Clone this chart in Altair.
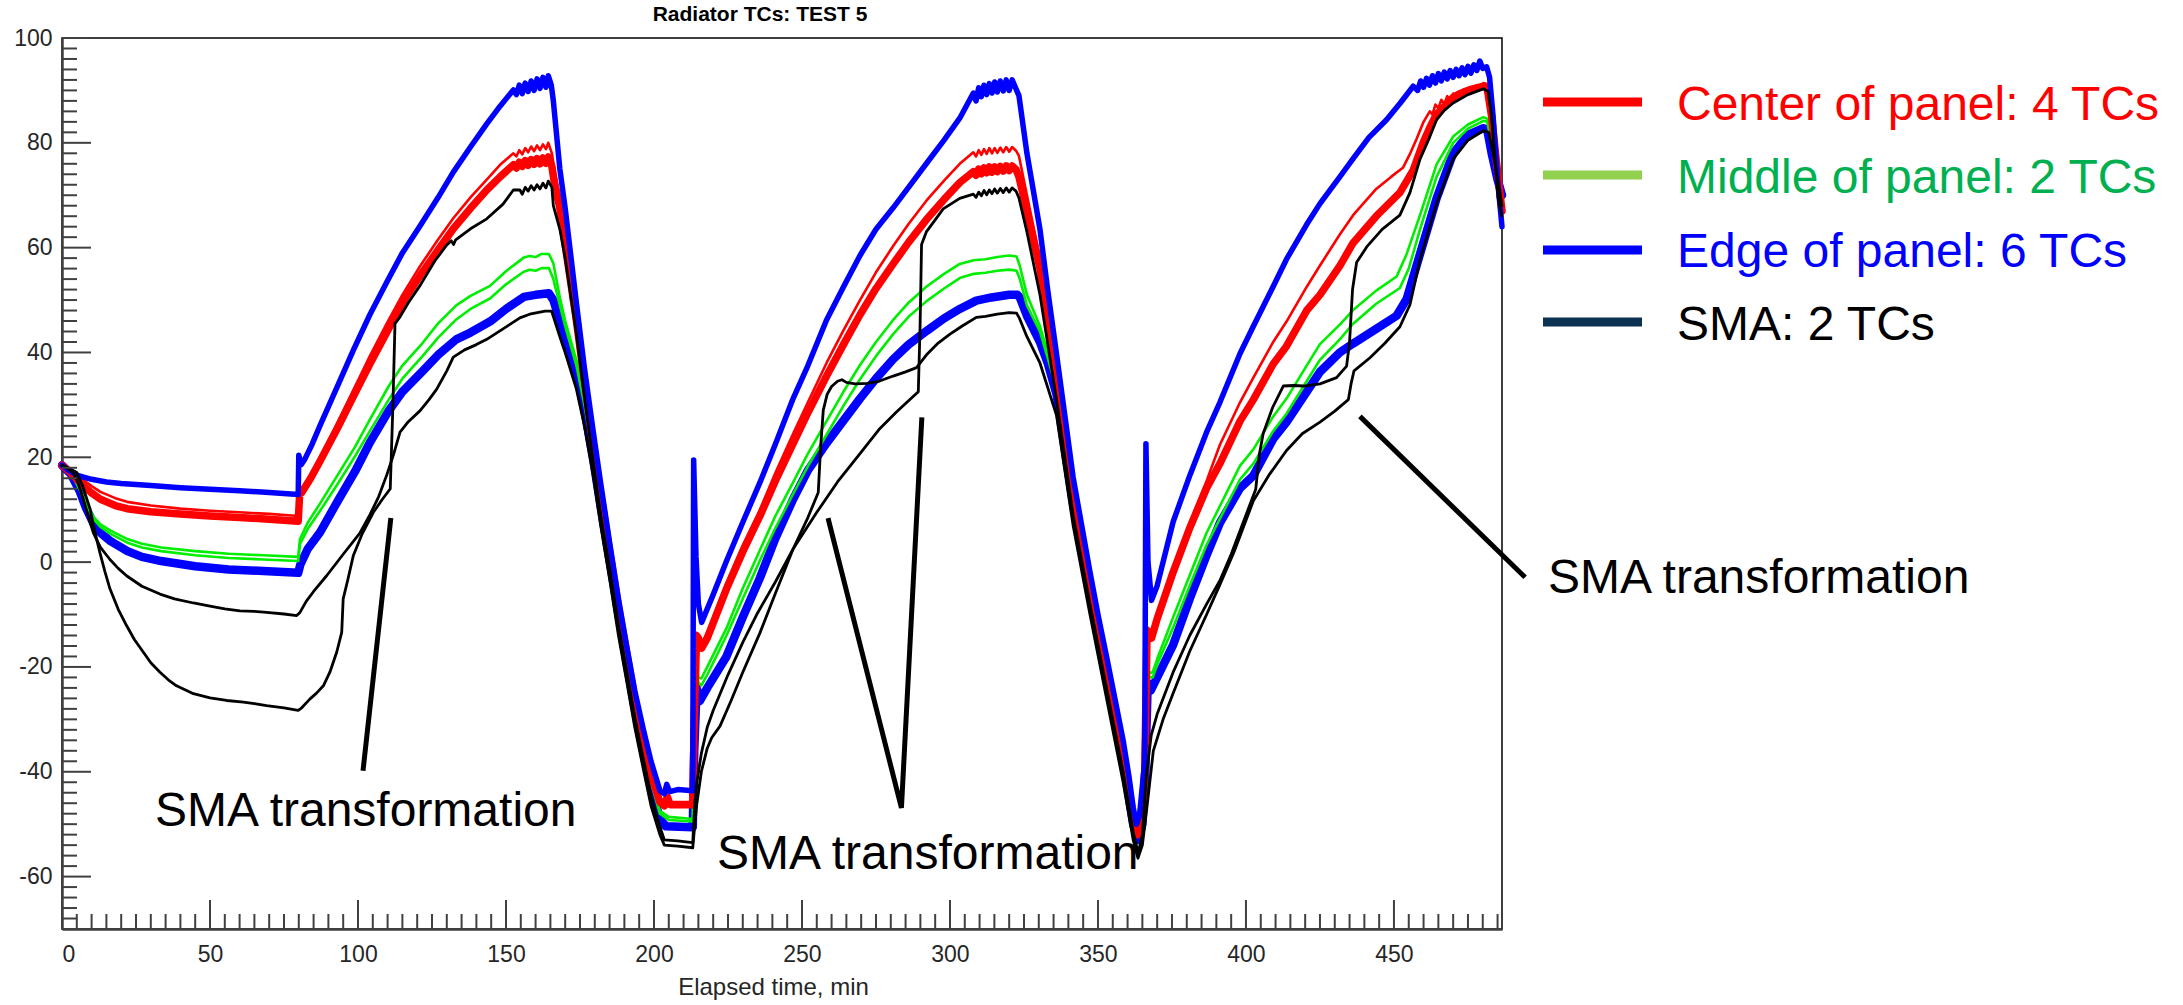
import altair as alt
import pandas as pd

FONT = "Liberation Sans"
TITLE = "Radiator TCs: TEST 5"
X_TITLE = "Elapsed time, min"
X_LABELS = [0, 50, 100, 150, 200, 250, 300, 350, 400, 450]
Y_LABELS = [-60, -40, -20, 0, 20, 40, 60, 80, 100]
X_MINOR = list(range(0, 490, 5))
Y_MINOR = list(range(-70, 101, 2))
X_DOMAIN = [0, 486.5]
Y_DOMAIN = [-70, 100]

LEGEND_LABELS = ["Center of panel: 4 TCs", "Middle of panel: 2 TCs",
                 "Edge of panel: 6 TCs", "SMA: 2 TCs"]
ANNOT_LABEL = "SMA transformation"

# ---- series: (elapsed minutes, temperature) ----
EDGE_HIGH = [(0,18.5),(2,17.6),(5,16.6),(10,15.8),(15,15.3),(20,15.0),(30,14.6),(40,14.2),(50,13.9),(60,13.6),(70,13.3),(79.8,12.9),(80.0,20.4),(80.8,18.6),(82,19.6),(84.5,22.5),(87.2,26.1),(93,33.5),(98.4,40.4),(104,47.2),(109.7,53.4),(115,59),(121,64.2),(127,69.5),(132.2,74.4),(138,79.2),(143.5,83.6),(148,87),(152.5,90.1),(153.5,89.2),(154.5,91),(155.5,89.4),(156.5,91.4),(157.5,89.8),(158.5,91.8),(159.5,90),(160.5,92.2),(161.5,90.4),(162.5,92.5),(163.5,90.6),(164.3,92.8),(165.3,91),(166,88),(168.2,75),(170,67.5),(173.8,49.4),(176.5,37),(179.5,24.8),(182,15),(185.1,3.4),(188,-7),(190.7,-15.8),(193.5,-24.5),(196.4,-31.9),(199,-38),(202,-43.6),(203.5,-44.2),(204.3,-42.4),(205.3,-43.8),(208,-43.4),(213.1,-43.6),(213.4,19.5),(214.2,1),(215,-8),(216.1,-11.5),(220,-6.2),(224.5,0.2),(230,7.6),(235.8,15.2),(241,22.5),(247,31.2),(252,37.5),(258.3,46.2),(264,52.5),(269.6,58.5),(275,63.5),(280.8,67.6),(286,71.5),(292.1,76.1),(298,80.5),(303.3,84.7),(307.9,89.5),(308.8,88),(309.7,90.5),(310.6,88.8),(311.5,91),(312.4,89.2),(313.3,91.3),(314.2,89.5),(315.1,91.6),(316,89.7),(317,91.8),(318,89.9),(319,92),(320,90),(321,92),(322.3,90.3),(323.3,89),(326,78),(330.4,63.5),(333,52),(336,39.7),(338.8,28),(341.6,16.2),(344.5,7),(347.3,-1.9),(350,-10),(352.9,-18),(355.7,-26),(358.5,-34),(360.5,-41),(361.9,-46.8),(363,-50),(364,-48.5),(365.8,-38),(366.2,22.6),(366.9,0),(368.1,-7.3),(370,-4.5),(375.4,7.7),(381,16.5),(386.7,24.8),(391.2,30.5),(398,39.8),(402.5,45),(409.2,52.6),(413.7,57.8),(420.5,64.4),(425,68.4),(431.7,73.5),(436.2,77),(441.5,81),(447.5,84.4),(452,87.5),(456.5,90.8),(458,90),(459,91.8),(460,90.6),(461,92.3),(462,91),(463,92.8),(464,91.4),(465,93.2),(466,91.8),(467,93.5),(468,92.2),(469,93.8),(470,92.5),(471,94),(472,92.8),(473,94.3),(474,93),(475,94.6),(476,93.3),(477,94.9),(478,93.8),(479,95.6),(480,94.2),(481.3,94.5),(482.3,92.5),(483.5,85),(485,73),(486.5,64)]

CENTER_UPPER = [(0,18.5),(3,17.5),(6,16.2),(10,14.5),(13,13.4),(18,12.2),(22,11.5),(30,10.8),(40,10.2),(50,9.8),(60,9.5),(70,9.2),(79.8,8.8),(80.3,13.6),(81,14),(84,16.5),(87.2,20),(93,26.5),(98.4,32.8),(104,39.3),(109.7,45.5),(115,51),(121,56.5),(127,61.5),(132.2,65.6),(138,69.6),(143.5,73),(148,75.8),(152.5,78),(153.5,77.4),(154.5,78.6),(155.5,77.8),(156.5,79),(157.5,78.2),(158.5,79.3),(159.5,78.4),(160.5,79.5),(161.5,78.6),(162.5,79.7),(163.5,78.8),(164.3,80),(165.5,78),(166.3,75),(168.2,69.5),(170,62),(173.8,47),(176.5,35),(179.5,23),(182,13.5),(185.1,2.2),(188,-8),(190.7,-16.5),(193.5,-25.5),(196.4,-33),(199,-39.5),(202,-45),(203.5,-45.8),(204.5,-44.3),(205.5,-45.8),(213.1,-45.8),(213.6,-30),(214.4,-13.5),(215,-14),(216.1,-15.5),(218,-13.5),(224.5,-4),(230,3.2),(235.8,10),(241,17),(247,24.5),(252,30.5),(258.3,38),(264,44.2),(269.6,50),(275,55.3),(280.8,60.3),(286,64.5),(292.1,69),(298,72.8),(303.3,76),(307.9,78.2),(308.8,77.4),(309.7,78.6),(310.6,77.7),(311.5,78.8),(312.4,77.9),(313.3,79),(314.2,78),(315.1,79),(316,78.1),(317,79.1),(318,78.2),(319,79.2),(320,78.3),(321,79.2),(322.3,78.5),(323.3,77.5),(326,70),(330.4,58),(333,48),(336,36.5),(341.6,14.5),(347.3,-3),(352.9,-19),(358.5,-35),(361.9,-47.5),(363.5,-51.5),(364.8,-48.5),(365.8,-40),(366.6,-12.5),(367.3,-13),(368.1,-14),(370,-10),(375.4,-1),(381,7.5),(386.7,15.5),(391.2,22.4),(398,30.5),(402.5,35.2),(409.2,42),(413.7,45.9),(420.5,52.5),(425,56.6),(431.7,62.5),(436.2,66.2),(444,71.2),(449,73.5),(453.1,75.3),(455.5,78),(457.6,80.7),(460,84),(462.1,86),(463,85.4),(464,87.3),(465,86.6),(466,88.2),(467,87.4),(468,88.9),(469,88.1),(470,89.4),(471,88.6),(472,89.8),(473,89),(474,90.2),(475,89.5),(476,90.6),(477,89.9),(478,91),(479,90.3),(480.2,91.4),(481.5,91.2),(483,86),(484.5,78),(486.5,69)]

CENTER_BAND = [(0,18.5),(3,17),(6,15.2),(10,13.2),(13,12),(18,10.8),(22,10.2),(30,9.6),(40,9.2),(50,8.8),(60,8.5),(70,8.2),(79.8,7.8),(80.3,13),(81,13.3),(84,16),(87.2,19.3),(93,25.5),(98.4,31.6),(104,37.8),(109.7,43.8),(115,49.5),(121,54.7),(127,59.5),(132.2,63.6),(138,67.5),(143.5,71),(148,73.5),(152.5,75.8),(153.5,75.2),(154.5,76.3),(155.5,75.5),(156.5,76.6),(157.5,75.7),(158.5,76.8),(159.5,75.9),(160.5,77),(161.5,76),(162.5,77.1),(163.5,76.1),(164.3,77.3),(165.5,75.5),(166.3,72.5),(168.2,67.5),(170,60.5),(173.8,46),(176.5,34.5),(179.5,22.3),(182,13),(185.1,1.8),(188,-8.5),(190.7,-17),(193.5,-26),(196.4,-33.5),(199,-40.5),(202,-45.8),(203.5,-46.5),(204.5,-44.8),(205.5,-46.3),(213.1,-46.3),(213.6,-30),(214.4,-14),(215,-14.5),(216.1,-16.4),(218,-14.5),(224.5,-5.1),(230,2),(235.8,8.8),(241,15.5),(247,22.6),(252,28.5),(258.3,35.5),(264,41.5),(269.6,47.2),(275,52.2),(280.8,56.9),(286,61),(292.1,65.4),(298,69.2),(303.3,72.4),(307.9,74.5),(308.8,73.8),(309.7,75),(310.6,74.1),(311.5,75.2),(312.4,74.3),(313.3,75.4),(314.2,74.4),(315.1,75.4),(316,74.5),(317,75.5),(318,74.6),(319,75.6),(320,74.7),(321,75.6),(322.3,74.9),(323.3,73.5),(326,67),(330.4,56),(333,46),(336,35.5),(341.6,13.5),(347.3,-4),(352.9,-20),(358.5,-36),(361.9,-48.5),(363.5,-52),(364.8,-49),(365.8,-40),(366.6,-13),(367.3,-13.5),(368.1,-14.5),(370,-10.8),(375.4,-1.9),(381,6.5),(386.7,14.1),(391.2,18.8),(398,26.9),(402.5,31),(409.2,37.8),(413.7,41.2),(420.5,48),(425,51),(431.7,56.5),(436.2,60.9),(444,66),(452,70.5),(456.5,74.8),(459.9,80.1),(462,82.8),(464.4,85.5),(466,86.3),(468,87.5),(470,88.7),(472,89.3),(474,89.8),(476,90.2),(478,90.5),(480.2,90.8),(481.5,90.4),(483,85),(484.5,77),(486.5,67)]

MIDDLE_A = [(0,18.5),(3,17),(6,14),(8,11.5),(10.7,8.6),(13,7.2),(16.4,6),(22.1,4.4),(27,3.5),(33.5,2.8),(45,2.1),(56.3,1.6),(68,1.3),(79.8,1.0),(80.4,4.4),(83,7.5),(87.2,11.2),(93,16.5),(99,22),(104,27.2),(110.4,33.6),(115,37.5),(121.8,41.8),(127,45.5),(133.2,49),(138,50.8),(144.6,52.7),(150,55.5),(156,58.1),(158,58.4),(160,58.2),(162,58.8),(164.5,58.8),(166,57),(168.2,50.5),(170,46),(173.8,38.5),(176.5,31),(179.5,21),(182,12),(185.1,1.5),(188,-8.5),(190.7,-17.5),(193.5,-26.5),(196.4,-34.5),(199,-41.5),(202,-47.5),(205,-48.6),(213.1,-49),(213.6,-35),(214.3,-20.5),(215,-22),(216,-22.2),(218,-20),(224.5,-12.6),(230,-5),(235.8,2.3),(241,8.8),(247,15.2),(252,20.7),(258.3,26.9),(264,32.5),(269.6,37.6),(275,42),(280.8,46.2),(286,49.5),(292.1,52.6),(298,55),(303.3,56.9),(308,57.6),(312,57.8),(316,58.2),(320,58.5),(322.5,58.3),(323.6,56.5),(326,51),(330.4,45),(333,40),(336,33.5),(341.6,12.5),(347.3,-5),(352.9,-21),(358.5,-37),(361.9,-48.5),(363.8,-52),(365,-48),(366,-38),(366.8,-20),(367.5,-21.2),(368.5,-21),(370,-18.5),(375.4,-10.5),(381,-2.5),(386.7,5.6),(391.2,10.7),(398,18.4),(402.5,21.5),(409.2,27.8),(413.7,31.2),(420.5,37.5),(425,41.6),(431.7,45.3),(436.2,48.1),(444,51.8),(450.9,54.5),(454.3,58.8),(458.8,66.2),(464.4,75.9),(470,81.2),(475,83.5),(480.2,84.9),(481.5,84.6),(483,80),(484.8,74),(486.5,68)]

MIDDLE_B = [(0,18.5),(3,17),(6,13.8),(8,11.2),(10.7,8.2),(13,6.7),(16.4,5.4),(22.1,3.7),(27,2.8),(33.5,2.1),(45,1.3),(56.3,0.8),(68,0.5),(79.8,0.2),(80.4,3.5),(83,6.3),(87.2,9.8),(93,14.8),(99,20.2),(104,25),(110.4,31),(115,35),(121.8,39.3),(127,42.8),(133.2,46.3),(138,48.3),(144.6,50.3),(150,53),(156,55.4),(158,55.8),(160,55.6),(162,56.1),(164.5,56.1),(166,54),(168.2,49),(170,45),(173.8,37.5),(176.5,30),(179.5,20.5),(182,11.5),(185.1,1),(188,-9),(190.7,-18),(193.5,-27),(196.4,-35),(199,-42),(202,-48),(205,-49.2),(213.1,-49.5),(213.6,-36),(214.3,-21.5),(215,-23),(216,-23.5),(218,-21.5),(224.5,-14),(230,-7),(235.8,0.3),(241,6.5),(247,13),(252,18.3),(258.3,24.3),(264,29.8),(269.6,34.9),(275,39.3),(280.8,43.5),(286,46.8),(292.1,49.8),(298,52.2),(303.3,54.2),(308,55),(312,55.2),(316,55.6),(320,55.8),(322.5,55.6),(323.6,54),(326,49),(330.4,44),(333,39),(336,33),(341.6,12),(347.3,-5.5),(352.9,-21.5),(358.5,-37.5),(361.9,-49),(363.8,-52.3),(365,-48.5),(366,-39),(366.8,-21),(367.5,-22),(368.5,-22),(370,-19.5),(375.4,-12.5),(381,-4.5),(386.7,3.3),(391.2,8.3),(398,15.8),(402.5,18.8),(409.2,25),(413.7,28.3),(420.5,34.5),(425,38.6),(431.7,42.5),(436.2,45.5),(444,49.3),(452,52.3),(455,56),(458.8,63.5),(464.4,73.5),(470,80),(475,82.7),(480.2,84.2),(481.5,84),(483,80),(484.8,73.5),(486.5,67.5)]

EDGE_BAND = [(0,18.5),(3,16.8),(6,13.5),(8,10.5),(10.7,7.3),(13,5.6),(16.4,4),(22.1,2.1),(27,1),(33.5,0.2),(45,-0.8),(56.3,-1.4),(68,-1.7),(79.8,-2.05),(80.5,-0.5),(83,2.5),(87.2,5.7),(93,11.5),(99,17.3),(104,22.8),(110.4,28.9),(115,32.5),(121.8,36.4),(127,39.5),(133.2,42.5),(138,43.8),(144.6,45.9),(150,48.3),(156,50.6),(160,51),(164.5,51.3),(166,50),(168.2,46),(170,43),(173.8,36),(176.5,29),(179.5,19.5),(182,10.5),(185.1,0),(188,-10),(190.7,-19),(193.5,-28),(196.4,-36),(199,-43),(202,-49),(204,-50.4),(213.1,-50.6),(213.6,-36),(214.4,-24),(215.5,-26.5),(218,-24),(224.5,-18),(230,-10.5),(235.8,-3),(241,4.5),(247,12),(252,17.5),(258.3,22.7),(264,27),(269.6,31.2),(275,35),(280.8,38.7),(286,41.5),(292.1,44.1),(298,46.5),(303.3,48.3),(308.9,49.9),(314,50.5),(320,51),(322.8,51),(323.6,50.5),(326,47),(330.4,42),(333,38),(336,32),(341.6,11),(347.3,-6),(352.9,-22),(358.5,-38),(361.9,-50),(363.6,-53),(365,-50),(366,-40),(366.8,-23),(367.8,-24.5),(370,-22),(375.4,-15.8),(381,-7),(386.7,1.3),(391.2,7.5),(398,14.1),(402.5,16.5),(409.2,23.5),(413.7,26.7),(420.5,32.5),(425,36.3),(431.7,40),(436.2,41.7),(444,44.5),(450.9,47),(454.3,50.2),(458.8,58.8),(464.4,69.4),(470,78),(475,81.5),(480.2,82.8),(481.5,82.5),(483,78),(485,73),(486.5,70)]

SMA_A = [(0,18.5),(2,18),(5,17.1),(7,14.5),(9.5,10.1),(11,6),(12.8,1.8),(14.5,-1.8),(16.2,-5.1),(19,-9),(21.8,-12.1),(24.5,-14.8),(27.5,-17.2),(30,-19.2),(33.1,-21),(36,-22.5),(38.7,-23.6),(44.4,-25.1),(50,-25.9),(55.6,-26.4),(61.3,-26.7),(65,-27),(69.1,-27.4),(75,-27.8),(79.8,-28.3),(81,-27.8),(83.8,-26.1),(86,-25),(88.3,-23.6),(90.5,-21),(92.8,-17.2),(94.5,-13.4),(95,-7),(96.5,-3.5),(98.4,1.2),(101.5,5.5),(105.2,9.5),(108,11.8),(110.9,14),(111.8,30),(112.5,45.5),(114.2,46.8),(117,49.5),(121,52.8),(126,57.5),(130,60.5),(131.5,61.3),(132.3,60.6),(133,61.5),(138,63.6),(143.5,65.5),(149,68.3),(152.5,71),(154.7,71),(155.5,70.2),(156.5,71.5),(157.5,70.8),(158.5,71.8),(159.5,71),(160.5,72),(161.5,71.2),(162.5,72.3),(163.5,71.4),(164.3,72.7),(165.5,71.5),(166,68),(168.2,63.5),(170,58),(173.8,43.5),(176.5,31.5),(179.5,19),(182,9),(185.1,-1.5),(188,-12),(190.7,-20.5),(193.5,-29.5),(196.4,-37.5),(199,-44.5),(202,-50.5),(203.5,-53),(208,-53.2),(213.1,-53.5),(213.8,-46),(214.5,-42),(216,-36.5),(218,-31.5),(220,-28.3),(225,-21.5),(230,-15.3),(235,-9.7),(241,-3.8),(247,2.5),(255,9.5),(262,15.3),(270,21),(276,25.3),(282,28.7),(286,30.8),(289.3,32.5),(289.9,45),(290.4,60.6),(292,63),(295,65.3),(297.7,67.4),(303.3,69.4),(307.9,70.2),(308.8,69.6),(309.7,70.6),(310.6,69.9),(311.5,70.9),(312.4,70.1),(313.3,71),(314.2,70.3),(315.1,71.2),(316,70.4),(317,71.3),(318,70.5),(319,71.4),(320,70.6),(321,71.4),(322.3,70.8),(323.3,69.5),(326,63),(330.4,51),(336,31),(341.6,9),(347.3,-8),(352.9,-24),(358.5,-40),(361.9,-51.5),(363.6,-55.5),(365,-52),(366.4,-40.4),(368,-33),(370,-29),(375.4,-21),(381,-14),(386.7,-8),(391.2,-3.5),(395,1.5),(398,6),(403.3,13.9),(404.5,20.5),(405.8,24.5),(409,29.5),(412.6,33.6),(416,33.7),(419.4,33.6),(425,34),(430.6,35.2),(434,37.4),(435,42),(436,52),(437.4,57.2),(441,60.3),(446,63.5),(452,66.2),(455.4,70.5),(458.8,76.9),(462,81),(464.4,84.4),(467,86.2),(470,87.6),(475,89.2),(480.2,90.3),(481.8,89.8),(483,85),(485.2,69.5),(486.5,66)]

SMA_B = [(0,18.5),(2,17.8),(3.8,17.1),(5.5,15),(7.2,12),(9,8.5),(10.6,5.6),(13,2.8),(16.2,0.5),(19,-1.2),(21.8,-2.6),(27,-4.6),(33.1,-6.1),(38,-7),(44.4,-7.8),(50,-8.4),(55,-8.9),(60.1,-9.3),(65,-9.4),(69.1,-9.6),(75,-9.9),(79.3,-10.2),(80.4,-9.6),(82.5,-7.5),(85,-5.6),(89.4,-2.6),(95,1.5),(100.7,5.6),(104,9),(107,12.5),(109.7,16.6),(112,20.5),(114.2,24.8),(117,26.8),(121,28.9),(124,31),(126.6,33),(130,36.5),(132.2,39.1),(136,40.5),(140,41.5),(143.5,42.5),(149,44.5),(154.7,46.6),(158,47.3),(163.2,47.9),(165.4,47.9),(166.5,46),(168.2,43),(170,40),(173.8,33),(176.5,26),(179.5,16.5),(182,7),(185.1,-3.5),(188,-14),(190.7,-22.5),(193.5,-31.5),(196.4,-39.5),(199,-46.5),(202,-52),(203.5,-54),(208,-54.2),(213.1,-54.5),(213.8,-50),(214.5,-46),(216,-40),(218,-35.5),(219.5,-33.5),(222.3,-31.3),(226,-26.5),(230,-21),(235.8,-13.5),(241,-6),(247,2.5),(252,8.5),(255.5,13.3),(256.3,22),(257.2,29),(258.5,32),(260,33.5),(262,34.5),(263.5,34.8),(265,34.3),(268,34),(272,34.1),(276,34.5),(280.8,35.5),(285,36.3),(288.7,37.1),(292,39.5),(296,41.8),(300,43.5),(304,45),(308.9,46.7),(312,46.9),(316,47.3),(320,47.6),(322.5,47.5),(323.5,46.5),(326,43),(330.4,38),(336,28),(341.6,7),(347.3,-10),(352.9,-26),(358.5,-42),(361.9,-53),(363.5,-56.5),(365,-54),(366.5,-47),(368.7,-36),(372,-30),(375.4,-25),(381,-17),(386.7,-10),(391.2,-4.3),(396,2),(402.5,11.7),(408,16.8),(413.7,21.3),(419,24.5),(425,26.7),(430,28.8),(434.6,31),(435.5,34),(436.5,36.5),(441.9,39),(447,41.8),(452,44.9),(455.4,49.1),(458.8,57.7),(464.4,68.4),(470,76.9),(475,80.5),(480.2,82.3),(482,82),(483.5,78),(485.8,70.5),(486.5,68)]

ANNOT_TEXT_POS = [(31.4, -47.6), (221.3, -55.8), (502.0, -3.2)]
ANNOT_LINES = [
    [(111.1, 8.4), (101.7, -39.8)],
    [(258.8, 8.4), (283.6, -46.9), (290.5, 27.6)],
    [(438.5, 27.8), (494.3, -2.9)],
]

# ---- styles ----
RED, GREEN, BLUE, BLACK = "#ff0000", "#00ee00", "#0000ff", "#000000"
SERIES = [
    (EDGE_BAND, BLUE, 8.5),
    (MIDDLE_A, GREEN, 2.6),
    (MIDDLE_B, GREEN, 2.6),
    (CENTER_BAND, RED, 7.5),
    (CENTER_UPPER, RED, 2.6),
    (EDGE_HIGH, BLUE, 5.5),
    (SMA_B, BLACK, 2.8),
    (SMA_A, BLACK, 2.8),
]
LEGEND_LINE_COLORS = ["#ff0000", "#92d050", "#0000ff", "#0d3150"]
LEGEND_TEXT_COLORS = ["#ff0000", "#00b050", "#0000ff", "#000000"]
LEGEND_LINE_Y = [64, 137, 212, 284]
LEGEND_TEXT_Y = [82, 155, 229, 302]

W, H = 1440, 891
AX = "#404040"
LBL = "#262626"

X = alt.X("t:Q", scale=alt.Scale(domain=X_DOMAIN, nice=False, zero=False),
          axis=alt.Axis(values=X_LABELS, ticks=False, tickSize=0, grid=False,
                        labelPadding=14, labelFontSize=23, labelColor=LBL,
                        labelFont=FONT, labelExpr="'' + datum.value",
                        title=X_TITLE, titleFont=FONT,
                        titleFontSize=24, titleFontWeight="normal",
                        titleColor=LBL, titlePadding=9, titleX=711,
                        domainColor=AX, domainWidth=2.5))
Y = alt.Y("v:Q", scale=alt.Scale(domain=Y_DOMAIN, nice=False, zero=False),
          axis=alt.Axis(values=Y_LABELS, ticks=False, tickSize=0, grid=False,
                        labelPadding=10, labelFontSize=23, labelColor=LBL,
                        labelFont=FONT, labelExpr="'' + datum.value",
                        title=None, domainColor=AX, domainWidth=2.5))

layers = []

# data lines
for pts, col, wd in SERIES:
    df = pd.DataFrame(pts, columns=["t", "v"])
    df["i"] = range(len(df))
    layers.append(alt.Chart(df).mark_line(color=col, strokeWidth=wd,
                                          strokeJoin="round", strokeCap="round")
                  .encode(x=X, y=Y, order="i:Q"))

# inward ticks
xmin = pd.DataFrame({"t": [v for v in X_MINOR if v not in X_LABELS]})
xmaj = pd.DataFrame({"t": X_LABELS})
ymin = pd.DataFrame({"v": [v for v in Y_MINOR if v not in Y_LABELS]})
ymaj = pd.DataFrame({"v": Y_LABELS})
layers.append(alt.Chart(xmin).mark_rule(color=AX, strokeWidth=2)
              .encode(x=X, y=alt.value(H), y2=alt.value(H - 15)))
layers.append(alt.Chart(xmaj).mark_rule(color=AX, strokeWidth=2)
              .encode(x=X, y=alt.value(H), y2=alt.value(H - 29)))
layers.append(alt.Chart(ymin).mark_rule(color=AX, strokeWidth=2)
              .encode(y=Y, x=alt.value(0), x2=alt.value(15)))
layers.append(alt.Chart(ymaj).mark_rule(color=AX, strokeWidth=2)
              .encode(y=Y, x=alt.value(0), x2=alt.value(29)))

# annotations
rows = []
for s, seg in enumerate(ANNOT_LINES):
    for i, (t, v) in enumerate(seg):
        rows.append({"seg": s, "i": i, "t": t, "v": v})
layers.append(alt.Chart(pd.DataFrame(rows)).mark_line(color="black", strokeWidth=5)
              .encode(x=X, y=Y, detail="seg:N", order="i:Q"))
adf = pd.DataFrame([{"t": t, "v": v, "label": ANNOT_LABEL} for t, v in ANNOT_TEXT_POS])
layers.append(alt.Chart(adf).mark_text(align="left", baseline="middle", fontSize=48,
                                       font=FONT, color="black")
              .encode(x=X, y=Y, text="label:N"))

# legend
for k, lab in enumerate(LEGEND_LABELS):
    ldf = pd.DataFrame({"label": [lab]})
    layers.append(alt.Chart(ldf).mark_rule(color=LEGEND_LINE_COLORS[k], strokeWidth=9)
                  .encode(x=alt.value(1481), x2=alt.value(1580), y=alt.value(LEGEND_LINE_Y[k])))
    layers.append(alt.Chart(ldf).mark_text(align="left", baseline="alphabetic", fontSize=48,
                                           font=FONT, color=LEGEND_TEXT_COLORS[k])
                  .encode(x=alt.value(1615), y=alt.value(LEGEND_TEXT_Y[k]), text="label:N"))

chart = alt.layer(*layers).properties(
    width=W, height=H,
    title=alt.TitleParams(TITLE, fontSize=21, fontWeight="bold", font=FONT,
                          color="black", offset=2, dx=-22),
    autosize=alt.AutoSizeParams(type="none"),
    padding={"left": 62, "top": 38, "right": 681, "bottom": 76},
    background="white",
).configure_view(stroke="black", strokeWidth=1.5)

chart.save("out.html", embed_options={"renderer": "svg", "actions": False})
